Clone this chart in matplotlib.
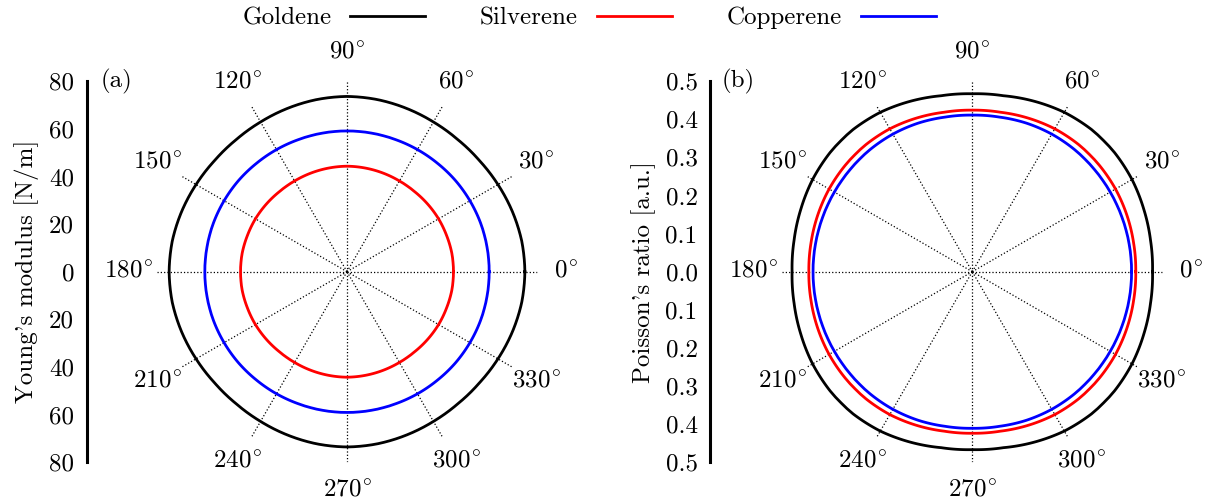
import numpy as np
import matplotlib
matplotlib.use('Agg')
import matplotlib.pyplot as plt
from matplotlib.lines import Line2D

plt.rcParams['font.family'] = ['cmr10', 'DejaVu Serif']
plt.rcParams['mathtext.fontset'] = 'cm'
plt.rcParams['axes.unicode_minus'] = False
plt.rcParams['axes.formatter.use_mathtext'] = True
plt.rcParams['font.size'] = 18

# read-off angles in the first quadrant (deg); the curves are mirror symmetric
angles = [0, 10, 20, 30, 40, 50, 60, 70, 80, 90]

# Young's modulus [N/m]
goldene_E = [74.7, 74.5, 73.9, 73.2, 72.6, 72.4, 72.6, 73.0, 73.4, 73.6]
silverene_E = [44.7, 44.7, 44.5, 44.4, 44.2, 44.0, 44.0, 44.1, 44.2, 44.3]
copperene_E = [59.7, 59.7, 59.7, 59.6, 59.5, 59.3, 59.2, 59.1, 59.1, 59.1]

# Poisson's ratio
goldene_nu = [0.473, 0.475, 0.479, 0.484, 0.487, 0.487, 0.483, 0.476, 0.469, 0.467]
silverene_nu = [0.429, 0.430, 0.432, 0.434, 0.435, 0.435, 0.433, 0.429, 0.425, 0.424]
copperene_nu = [0.418, 0.418, 0.418, 0.418, 0.418, 0.418, 0.417, 0.415, 0.412, 0.411]

names = ['Goldene', 'Silverene', 'Copperene']
colors = ['black', 'red', 'blue']

E_ticks = [80, 60, 40, 20, 0, 20, 40, 60, 80]
nu_ticks = ['0.5', '0.4', '0.3', '0.2', '0.1', '0.0', '0.1', '0.2', '0.3', '0.4', '0.5']


def full_curve(vals):
    a = np.array(angles, dtype=float)
    v = np.array(vals, dtype=float)
    th = np.concatenate([a, 180 - a[::-1][1:], 180 + a[1:], 360 - a[::-1][1:]])
    r = np.concatenate([v, v[::-1][1:], v[1:], v[::-1][1:]])
    return np.deg2rad(th), r


W, H = 1216, 504
fig = plt.figure(figsize=(W / 100, H / 100), dpi=100)

R = 190.5
bottom = (H - 271.7 - R) / H
height = 2 * R / H


def polar_panel(cx, rmax, series):
    ax = fig.add_axes([(cx - R) / W, bottom, 2 * R / W, height], projection='polar')
    for vals, c in zip(series, colors):
        th, r = full_curve(vals)
        ln, = ax.plot(th, r, color=c, lw=2)
        # let the polar transform draw each segment as an arc, not a chord
        ln.get_path()._interpolation_steps = 40
    ax.set_ylim(0, rmax)
    ax.set_yticks([])
    ax.set_thetagrids(range(0, 360, 30),
                      labels=[rf'${d}^{{\!\circ}}$' for d in range(0, 360, 30)])
    ax.xaxis.grid(True, ls=':', color='k', lw=0.9)
    ax.spines['polar'].set_visible(False)
    ax.tick_params(axis='x', pad=10)
    ax.patch.set_visible(False)
    return ax


def side_axis(x, lim, nticks, labels, ylabel):
    sax = fig.add_axes([x / W, bottom, 0.0005, height])
    sax.set_ylim(-lim, lim)
    sax.set_yticks(np.linspace(-lim, lim, nticks))
    sax.set_yticklabels(labels[::-1])
    sax.set_xticks([])
    for s in ['top', 'right', 'bottom']:
        sax.spines[s].set_visible(False)
    sax.spines['left'].set_linewidth(2.2)
    sax.tick_params(axis='y', length=0, pad=9)
    sax.patch.set_visible(False)
    sax.set_ylabel(ylabel, labelpad=7)
    return sax


polar_panel(347.0, 80, [goldene_E, silverene_E, copperene_E])
polar_panel(972.3, 0.5, [goldene_nu, silverene_nu, copperene_nu])

side_axis(86.7, 80, len(E_ticks), [str(t) for t in E_ticks], "Young's modulus [N/m]")
side_axis(710.0, 0.5, len(nu_ticks), nu_ticks, "Poisson's ratio [a.u.]")

fig.text(101 / W, 1 - 81 / H, '(a)', ha='left', va='center')
fig.text(722 / W, 1 - 81 / H, '(b)', ha='left', va='center')

handles = [Line2D([], [], color=c, lw=2) for c in colors]
fig.legend(handles, names, ncol=3, loc='center', bbox_to_anchor=(589 / W, 1 - 18 / H),
           frameon=False, markerfirst=False, handlelength=3.0, handletextpad=0.75,
           columnspacing=2.2)

fig.savefig('out.png', dpi=100)
